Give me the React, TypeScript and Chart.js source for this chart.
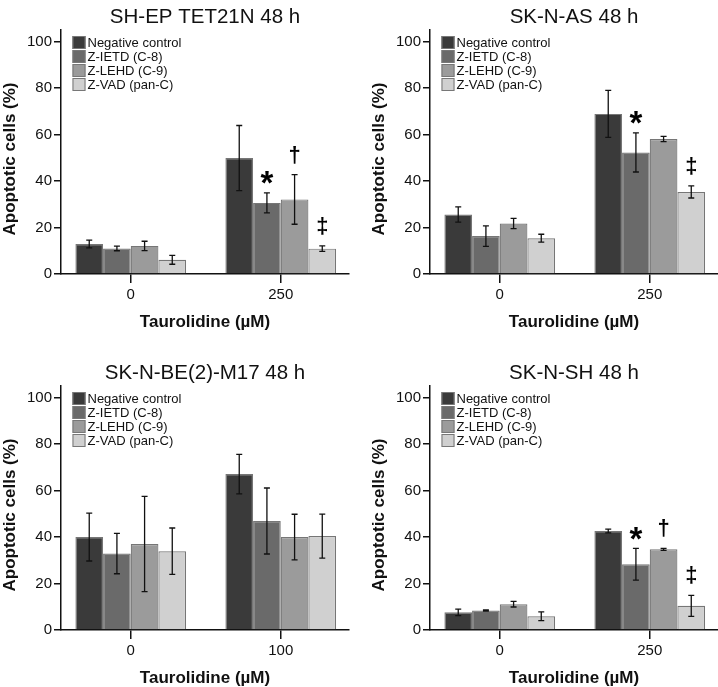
import React, { useEffect, useRef } from 'react';
import { Chart, registerables } from 'chart.js';

Chart.register(...registerables);

const FONT = "'Liberation Sans', Arial, Helvetica, sans-serif";

const SERIES_LABELS = ['Negative control', 'Z-IETD (C-8)', 'Z-LEHD (C-9)', 'Z-VAD (pan-C)'];
const SERIES_COLORS = ['#3a3a3a', '#6a6a6a', '#9b9b9b', '#d0d0d0'];
const Y_TICKS = [0, 20, 40, 60, 80, 100];
const X_TITLE = 'Taurolidine (\u00b5M)';
const Y_TITLE = 'Apoptotic cells (%)';

// Panel 1: SH-EP TET21N
const P1_TITLE = 'SH-EP TET21N 48 h';
const P1_DOSES = ['0', '250'];
const P1_NC = [12.9, 49.9];
const P1_NC_ERR = [1.7, 14.0];
const P1_IETD = [11.0, 30.6];
const P1_IETD_ERR = [1.0, 4.3];
const P1_LEHD = [12.1, 32.1];
const P1_LEHD_ERR = [2.0, 10.7];
const P1_VAD = [6.1, 10.9];
const P1_VAD_ERR = [1.9, 1.2];
const P1_MARKS = [['', ''], ['', '*'], ['', '\u2020'], ['', '\u2021']];

// Panel 2: SK-N-AS
const P2_TITLE = 'SK-N-AS 48 h';
const P2_DOSES = ['0', '250'];
const P2_NC = [25.6, 68.9];
const P2_NC_ERR = [3.3, 10.1];
const P2_IETD = [16.3, 52.3];
const P2_IETD_ERR = [4.4, 8.4];
const P2_LEHD = [21.7, 58.1];
const P2_LEHD_ERR = [2.2, 1.1];
const P2_VAD = [15.4, 35.3];
const P2_VAD_ERR = [1.7, 2.6];
const P2_MARKS = [['', ''], ['', '*'], ['', ''], ['', '\u2021']];

// Panel 3: SK-N-BE(2)-M17
const P3_TITLE = 'SK-N-BE(2)-M17 48 h';
const P3_DOSES = ['0', '100'];
const P3_NC = [40.0, 67.1];
const P3_NC_ERR = [10.3, 8.5];
const P3_IETD = [32.9, 46.9];
const P3_IETD_ERR = [8.7, 14.2];
const P3_LEHD = [37.0, 40.0];
const P3_LEHD_ERR = [20.5, 9.8];
const P3_VAD = [33.9, 40.4];
const P3_VAD_ERR = [10.0, 9.5];
const P3_MARKS = [['', ''], ['', ''], ['', ''], ['', '']];

// Panel 4: SK-N-SH
const P4_TITLE = 'SK-N-SH 48 h';
const P4_DOSES = ['0', '250'];
const P4_NC = [7.6, 42.6];
const P4_NC_ERR = [1.4, 0.8];
const P4_IETD = [8.4, 28.3];
const P4_IETD_ERR = [0.3, 6.8];
const P4_LEHD = [11.1, 34.7];
const P4_LEHD_ERR = [1.2, 0.4];
const P4_VAD = [5.9, 10.4];
const P4_VAD_ERR = [1.9, 4.5];
const P4_MARKS = [['', ''], ['', '*'], ['', '\u2020'], ['', '\u2021']];

type PanelProps = {
  title: string;
  doses: string[];
  values: number[][];
  errors: number[][];
  marks: string[][];
  left: number;
  top: number;
};

const W = 359;
const H = 344;

function Panel({ title, doses, values, errors, marks, left, top }: PanelProps) {
  const ref = useRef<HTMLCanvasElement | null>(null);

  useEffect(() => {
    const canvas = ref.current;
    if (!canvas) return;

    const errorPlugin = {
      id: 'errorBars',
      afterDatasetsDraw(chart: any) {
        const ctx = chart.ctx;
        const ys = chart.scales.y;
        chart.data.datasets.forEach((ds: any, di: number) => {
          const meta = chart.getDatasetMeta(di);
          meta.data.forEach((bar: any, i: number) => {
            const v = values[di][i];
            const e = errors[di][i];
            const x = bar.x;
            const yt = ys.getPixelForValue(v + e);
            const yb = ys.getPixelForValue(v - e);
            ctx.save();
            ctx.strokeStyle = '#111';
            ctx.lineWidth = 1.3;
            ctx.beginPath();
            ctx.moveTo(x, yt);
            ctx.lineTo(x, yb);
            ctx.moveTo(x - 3, yt);
            ctx.lineTo(x + 3, yt);
            ctx.moveTo(x - 3, yb);
            ctx.lineTo(x + 3, yb);
            ctx.stroke();
            const m = marks[di][i];
            if (m) {
              const isStar = m === '*';
              ctx.font = isStar ? `bold 33px ${FONT}` : `bold 22px ${FONT}`;
              ctx.fillStyle = '#000';
              ctx.textAlign = 'center';
              ctx.textBaseline = 'alphabetic';
              const mt = ctx.measureText(m);
              const cy = yt - (isStar ? 15 : 20);
              const yy = cy + (mt.actualBoundingBoxAscent - mt.actualBoundingBoxDescent) / 2;
              ctx.fillText(m, x, yy);
            }
            ctx.restore();
          });
        });
      },
    };

    const decorPlugin = {
      id: 'decor',
      afterDraw(chart: any) {
        const ctx = chart.ctx;
        const ca = chart.chartArea;
        ctx.save();
        // legend
        const lx = ca.left + 11.5;
        let ly = ca.top + 6;
        ctx.font = `13px ${FONT}`;
        ctx.textBaseline = 'middle';
        ctx.textAlign = 'left';
        chart.data.datasets.forEach((ds: any) => {
          ctx.fillStyle = ds.backgroundColor;
          ctx.fillRect(lx, ly, 13, 13);
          ctx.strokeStyle = '#777';
          ctx.lineWidth = 1;
          ctx.strokeRect(lx + 0.5, ly + 0.5, 12, 12);
          ctx.fillStyle = '#111';
          ctx.fillText(ds.label, lx + 15, ly + 7);
          ly += 14;
        });
        // y axis title
        ctx.translate(10.5, (ca.top + ca.bottom) / 2 + 7);
        ctx.rotate(-Math.PI / 2);
        ctx.font = `bold 17px ${FONT}`;
        ctx.textAlign = 'center';
        ctx.textBaseline = 'middle';
        ctx.fillStyle = '#111';
        ctx.fillText(Y_TITLE, 0, 0);
        ctx.restore();
      },
    };

    const chart = new Chart(canvas, {
      type: 'bar',
      data: {
        datasets: SERIES_LABELS.map((label, di) => ({
          label,
          data: doses.map((_, i) => ({ x: i, y: values[di][i] })),
          backgroundColor: SERIES_COLORS[di],
          borderColor: '#767676',
          borderWidth: 1.2,
          categoryPercentage: 0.738,
          barPercentage: 1,
        })),
      },
      options: {
        responsive: false,
        animation: false,
        devicePixelRatio: 1,
        layout: { padding: { left: 0, right: 10, top: 0, bottom: 0 } },
        plugins: {
          legend: { display: false },
          tooltip: { enabled: false },
          title: {
            display: true,
            text: title,
            fullSize: false,
            color: '#111',
            font: { family: FONT, size: 20.5, weight: 'normal' },
            padding: { top: 5, bottom: 0.4 },
          },
        },
        scales: {
          x: {
            type: 'linear',
            min: -0.465,
            max: 1.455,
            offset: false,
            z: 1,
            afterBuildTicks: (scale: any) => {
              scale.ticks = doses.map((_, i) => ({ value: i }));
            },
            afterFit: (scale: any) => {
              scale.height = 70;
            },
            ticks: {
              callback: (v: any) => doses[Number(v)] ?? '',
              font: { family: FONT, size: 15 },
              color: '#111',
              padding: 3,
              maxRotation: 0,
              autoSkip: false,
            },
            grid: {
              offset: false,
              drawOnChartArea: false,
              drawTicks: true,
              tickLength: 9,
              color: '#111',
              lineWidth: 1.5,
            },
            border: { display: true, color: '#111', width: 1.5 },
            title: {
              display: true,
              text: X_TITLE,
              color: '#111',
              font: { family: FONT, size: 17, weight: 'bold' },
              padding: { top: 0, bottom: 11.5 },
            },
          },
          y: {
            type: 'linear',
            min: 0,
            max: 105,
            afterBuildTicks: (scale: any) => {
              scale.ticks = Y_TICKS.map((v) => ({ value: v }));
            },
            afterFit: (scale: any) => {
              scale.width = 61;
            },
            ticks: {
              font: { family: FONT, size: 15 },
              color: '#111',
              padding: 2,
            },
            grid: {
              drawOnChartArea: false,
              drawTicks: true,
              tickLength: 7,
              color: '#111',
              lineWidth: 1.5,
            },
            border: { display: true, color: '#111', width: 1.5 },
          },
        },
      },
      plugins: [errorPlugin, decorPlugin],
    } as any);

    return () => chart.destroy();
  }, [title, doses, values, errors, marks]);

  return (
    <canvas
      ref={ref}
      width={W}
      height={H}
      style={{ position: 'absolute', left, top, width: W, height: H }}
    />
  );
}

export default function App() {
  return (
    <div
      style={{
        position: 'fixed',
        left: 0,
        top: 0,
        width: 718,
        height: 687,
        overflow: 'hidden',
        background: '#fff',
      }}
    >
      <Panel
        title={P1_TITLE}
        doses={P1_DOSES}
        values={[P1_NC, P1_IETD, P1_LEHD, P1_VAD]}
        errors={[P1_NC_ERR, P1_IETD_ERR, P1_LEHD_ERR, P1_VAD_ERR]}
        marks={P1_MARKS}
        left={0}
        top={0}
      />
      <Panel
        title={P2_TITLE}
        doses={P2_DOSES}
        values={[P2_NC, P2_IETD, P2_LEHD, P2_VAD]}
        errors={[P2_NC_ERR, P2_IETD_ERR, P2_LEHD_ERR, P2_VAD_ERR]}
        marks={P2_MARKS}
        left={369}
        top={0}
      />
      <Panel
        title={P3_TITLE}
        doses={P3_DOSES}
        values={[P3_NC, P3_IETD, P3_LEHD, P3_VAD]}
        errors={[P3_NC_ERR, P3_IETD_ERR, P3_LEHD_ERR, P3_VAD_ERR]}
        marks={P3_MARKS}
        left={0}
        top={356}
      />
      <Panel
        title={P4_TITLE}
        doses={P4_DOSES}
        values={[P4_NC, P4_IETD, P4_LEHD, P4_VAD]}
        errors={[P4_NC_ERR, P4_IETD_ERR, P4_LEHD_ERR, P4_VAD_ERR]}
        marks={P4_MARKS}
        left={369}
        top={356}
      />
    </div>
  );
}
